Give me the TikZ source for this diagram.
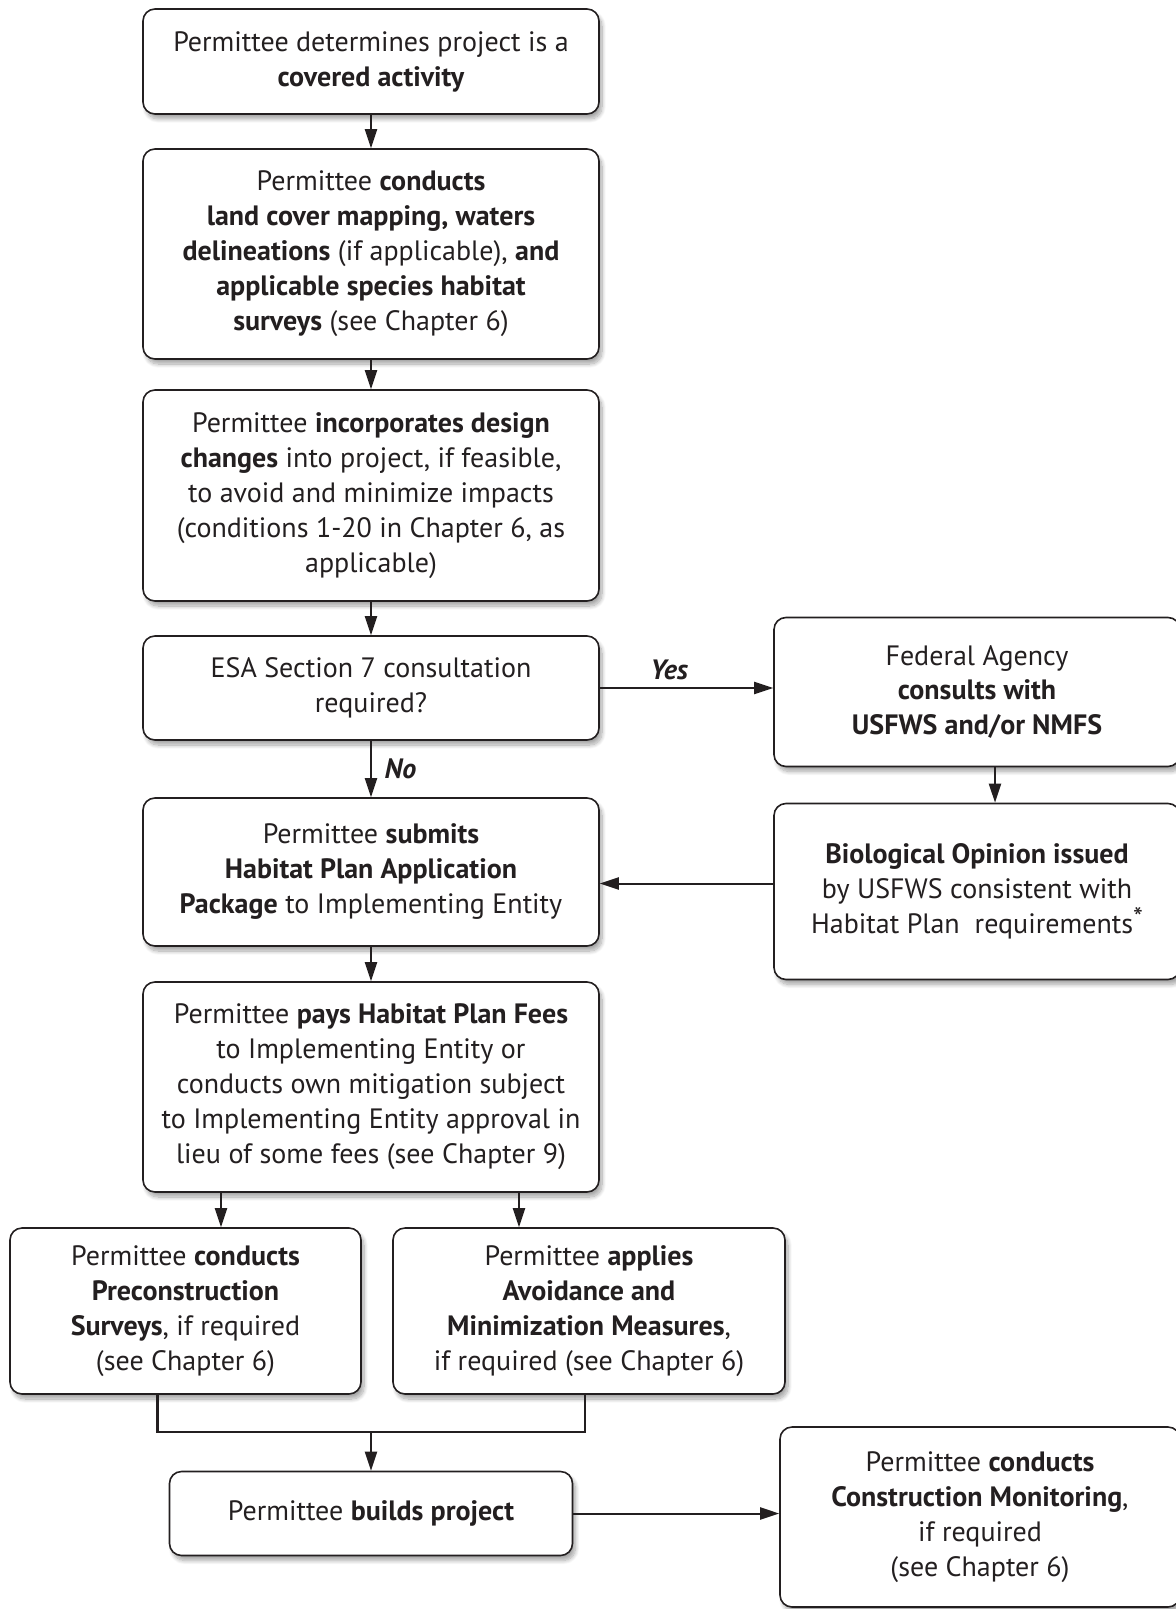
\documentclass[tikz,border=0pt]{standalone}
\usepackage{fontspec}
\setmainfont{PT Sans}
\usetikzlibrary{arrows.meta,shadows.blur}
\definecolor{ink}{HTML}{231F20}

\begin{document}
\begin{tikzpicture}[x=0.5pt,y=-0.5pt,
    stage/.style={draw=ink,line width=0.8pt,rounded corners=6pt,fill=white,align=center,inner sep=0pt,
      font=\fontsize{14}{17.5}\selectfont,text=ink,
      blur shadow={shadow xshift=1.5pt,shadow yshift=-2.5pt,shadow blur steps=10,shadow opacity=35}},
    flow/.style={draw=ink,line width=1pt,-{Triangle[length=9.5pt,width=6pt]}},
    merge/.style={draw=ink,line width=1.3pt},
    answer/.style={font=\fontsize{14}{17}\selectfont\bfseries\itshape,text=ink}]
    \useasboundingbox (0,0) rectangle (1175,1609);
    \node[stage,minimum width=228pt,minimum height=52.5pt] (covered) at (371,61.5)
      {Permittee determines project is a\\ \textbf{covered activity}};
    \node[stage,minimum width=228pt,minimum height=105pt] (surveys) at (371,254)
      {Permittee \textbf{conducts}\\ \textbf{land cover mapping, waters}\\ \textbf{delineations} (if applicable), \textbf{and}\\ \textbf{applicable species habitat}\\ \textbf{surveys} (see Chapter 6)};
    \node[stage,minimum width=228pt,minimum height=105.5pt] (design) at (371,495.5)
      {Permittee \textbf{incorporates design}\\ \textbf{changes} into project, if feasible,\\ to avoid and minimize impacts\\ (conditions 1-20 in Chapter 6, as\\ applicable)};
    \node[stage,minimum width=228pt,minimum height=52pt] (esa) at (371,688)
      {ESA Section 7 consultation\\ required?};
    \node[stage,minimum width=203pt,minimum height=74.5pt] (agency) at (977,692)
      {Federal Agency\\ \textbf{consults with}\\ \textbf{USFWS and/or NMFS}};
    \node[stage,minimum width=203pt,minimum height=88pt] (opinion) at (977,891.5)
      {\textbf{Biological Opinion issued}\\ by USFWS consistent with\\ Habitat Plan~ requirements\raisebox{0.45ex}{*}};
    \node[stage,minimum width=228pt,minimum height=74pt] (submit) at (371,872)
      {Permittee \textbf{submits}\\ \textbf{Habitat Plan Application}\\ \textbf{Package} to Implementing Entity};
    \node[stage,minimum width=228pt,minimum height=105pt] (fees) at (371,1087)
      {Permittee \textbf{pays Habitat Plan Fees}\\ to Implementing Entity or\\ conducts own mitigation subject\\ to Implementing Entity approval in\\ lieu of some fees (see Chapter 9)};
    \node[stage,minimum width=175.5pt,minimum height=83pt] (precon) at (185.5,1311)
      {Permittee \textbf{conducts}\\ \textbf{Preconstruction}\\ \textbf{Surveys}, if required\\ (see Chapter 6)};
    \node[stage,minimum width=196pt,minimum height=83pt] (avoid) at (589,1311)
      {Permittee \textbf{applies}\\ \textbf{Avoidance and}\\ \textbf{Minimization Measures},\\ if required (see Chapter 6)};
    \node[stage,minimum width=201.5pt,minimum height=42pt] (build) at (371,1513.5)
      {Permittee \textbf{builds project}};
    \node[stage,minimum width=200pt,minimum height=90pt] (monitor) at (980,1517)
      {Permittee \textbf{conducts}\\ \textbf{Construction Monitoring},\\ if required\\ (see Chapter 6)};
    \coordinate (join) at (371,1432);
    \draw[flow] (covered) -- (surveys);
    \draw[flow] (surveys) -- (design);
    \draw[flow] (design) -- (esa);
    \draw[flow] (esa) -- node[answer,right,xshift=3pt]{No} (submit);
    \draw[flow] (esa.east) -- node[answer,above,pos=0.4]{Yes} (esa.east -| agency.west);
    \draw[flow] ([xshift=9pt]agency.south) -- ([xshift=9pt]agency.south |- opinion.north);
    \draw[flow] ([yshift=4pt]opinion.west) -- ([yshift=4pt]opinion.west -| submit.east);
    \draw[flow] (submit) -- (fees);
    \draw[flow] ([xshift=-75pt]fees.south) -- ([xshift=-75pt]fees.south |- precon.north);
    \draw[flow] ([xshift=74pt]fees.south) -- ([xshift=74pt]fees.south |- avoid.north);
    \draw[merge] ([xshift=-14pt]precon.south) |- (join) -| ([xshift=-2pt]avoid.south);
    \draw[flow] (join) -- (build);
    \draw[flow] (build.east) -- (build.east -| monitor.west);
\end{tikzpicture}
\end{document}
